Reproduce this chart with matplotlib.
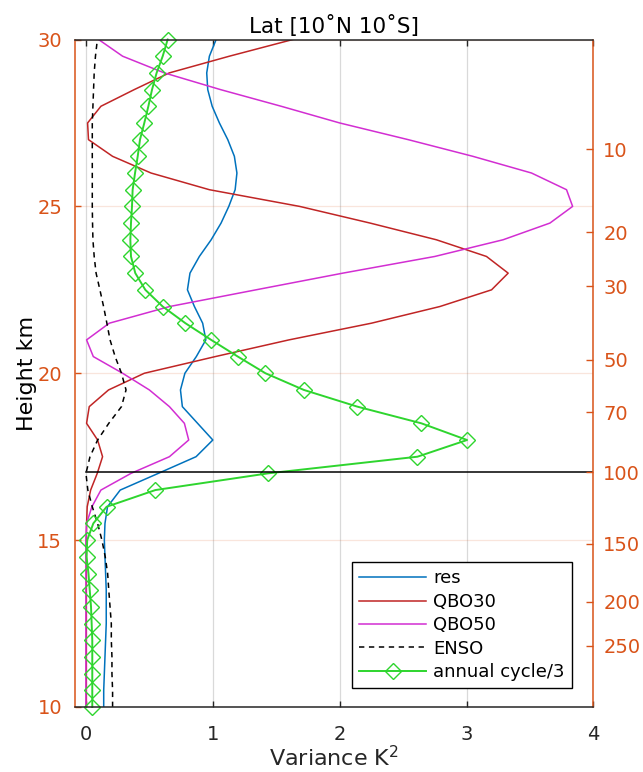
import matplotlib
matplotlib.use('Agg')
import matplotlib.pyplot as plt
import numpy as np

plt.rcParams['font.family'] = ['DejaVu Sans']

# heights every 0.5 km, 10 .. 30
height = np.arange(10.0, 30.01, 0.5)

res = [0.14, 0.14, 0.145, 0.15, 0.155, 0.16, 0.16, 0.16, 0.155, 0.15,
       0.145, 0.15, 0.17, 0.27, 0.57, 0.868, 1.0, 0.88, 0.76, 0.745,
       0.78, 0.87, 0.945, 0.92, 0.855, 0.80, 0.82, 0.894, 0.987, 1.065,
       1.126, 1.176, 1.19, 1.17, 1.118, 1.052, 0.995, 0.96, 0.952, 0.973,
       1.026]
qbo30 = [0.003, 0.003, 0.003, 0.003, 0.003, 0.003, 0.003, 0.003, 0.003, 0.003,
         0.003, 0.005, 0.01, 0.037, 0.089, 0.131, 0.092, 0.005, 0.026, 0.178,
         0.46, 1.02, 1.60, 2.25, 2.79, 3.197, 3.328, 3.157, 2.762, 2.24,
         1.684, 0.973, 0.513, 0.21, 0.02, 0.013, 0.118, 0.381, 0.657, 1.13,
         1.63]
qbo50 = [0.0, 0.0, 0.0, 0.0, 0.0, 0.0, 0.0, 0.0, 0.0, 0.0,
         0.0, 0.005, 0.047, 0.118, 0.355, 0.658, 0.81, 0.776, 0.658, 0.5,
         0.289, 0.058, 0.005, 0.184, 0.66, 1.34, 2.025, 2.75, 3.288, 3.657,
         3.836, 3.788, 3.512, 3.05, 2.54, 2.0, 1.539, 1.06, 0.618, 0.289,
         0.1]
enso = [0.21, 0.21, 0.205, 0.205, 0.2, 0.2, 0.19, 0.18, 0.171, 0.152,
        0.126, 0.092, 0.05, 0.015, 0.0, 0.032, 0.092, 0.18, 0.28, 0.316,
        0.28, 0.23, 0.19, 0.165, 0.139, 0.11, 0.08, 0.065, 0.055, 0.052,
        0.05, 0.05, 0.05, 0.05, 0.05, 0.05, 0.055, 0.06, 0.065, 0.075,
        0.09]
annual = [0.05, 0.05, 0.05, 0.05, 0.05, 0.045, 0.04, 0.03, 0.02, 0.005,
          0.01, 0.058, 0.163, 0.547, 1.434, 2.613, 3.004, 2.644, 2.139, 1.718,
          1.415, 1.197, 0.987, 0.784, 0.605, 0.468, 0.389, 0.355, 0.35, 0.355,
          0.363, 0.368, 0.387, 0.408, 0.426, 0.46, 0.492, 0.521, 0.557, 0.605,
          0.644]

tropopause = 17.03

# right axis: pressure levels (hPa) and the heights they sit at
p_labels = ['10', '20', '30', '50', '70', '100', '150', '200', '250']
p_height = [26.71, 24.23, 22.61, 20.41, 18.83, 17.03, 14.89, 13.15, 11.83]

orange = '#D95319'
dark = '#262626'

fig = plt.figure(figsize=(6.43, 7.72), dpi=100)
ax = fig.add_axes([0.1159, 0.0842, 0.807, 0.8646])

ax.plot(res, height, color='#0072BD', lw=1.1, label='res')
ax.plot(qbo30, height, color='#C02525', lw=1.1, label='QBO30')
ax.plot(qbo50, height, color='#D22ED2', lw=1.1, label='QBO50')
ax.plot(enso, height, color='k', lw=1.1, ls=(0, (3.5, 3)), label='ENSO')
ax.plot(annual, height, color='#2ED52E', lw=1.4, marker='D', ms=8.5,
        mfc='none', mec='#2ED52E', mew=1.0, clip_on=False,
        label='annual cycle/3')
ax.plot([0, 4], [tropopause, tropopause], color='k', lw=1.1)

ax.set_xlim(-0.09, 4)
ax.set_ylim(10, 30)
ax.set_xticks([0, 1, 2, 3, 4])
ax.set_yticks([10, 15, 20, 25, 30])

ax.grid(axis='x', color='#d9d9d9', lw=0.9)
ax.grid(axis='y', color=orange, alpha=0.15, lw=0.9)
ax.set_axisbelow(True)

ax.tick_params(axis='x', direction='in', top=True, length=4, width=1,
               colors=dark, labelsize=14, pad=13)
ax.tick_params(axis='y', direction='in', right=True, length=4, width=1,
               colors=orange, labelsize=14, pad=9)
for s in ['left', 'right']:
    ax.spines[s].set_color(orange)
for s in ['top', 'bottom']:
    ax.spines[s].set_color(dark)
for s in ax.spines.values():
    s.set_linewidth(1.1)

ax.set_xlabel('Variance K$^2$', fontsize=16, color=dark, labelpad=1)
ax.set_ylabel('Height km', fontsize=16, color='k', labelpad=0)
ax.set_title('Lat [10\u02daN 10\u02daS]', fontsize=15.5, color='k', pad=5)

leg = ax.legend(loc='lower right', bbox_to_anchor=(0.959, 0.028),
                borderaxespad=0, fontsize=13, frameon=True, fancybox=False,
                edgecolor='k', framealpha=1, handlelength=3.7,
                labelspacing=0.3, handletextpad=0.4, borderpad=0.4)
leg.get_frame().set_linewidth(1.0)

ax2 = ax.twinx()
ax2.set_ylim(10, 30)
ax2.set_yticks(p_height)
ax2.set_yticklabels(p_labels)
ax2.tick_params(axis='y', direction='in', length=5, width=1,
                colors=orange, labelsize=14, pad=7)
for s in ax2.spines.values():
    s.set_visible(False)

fig.savefig('out.png', dpi=100)
